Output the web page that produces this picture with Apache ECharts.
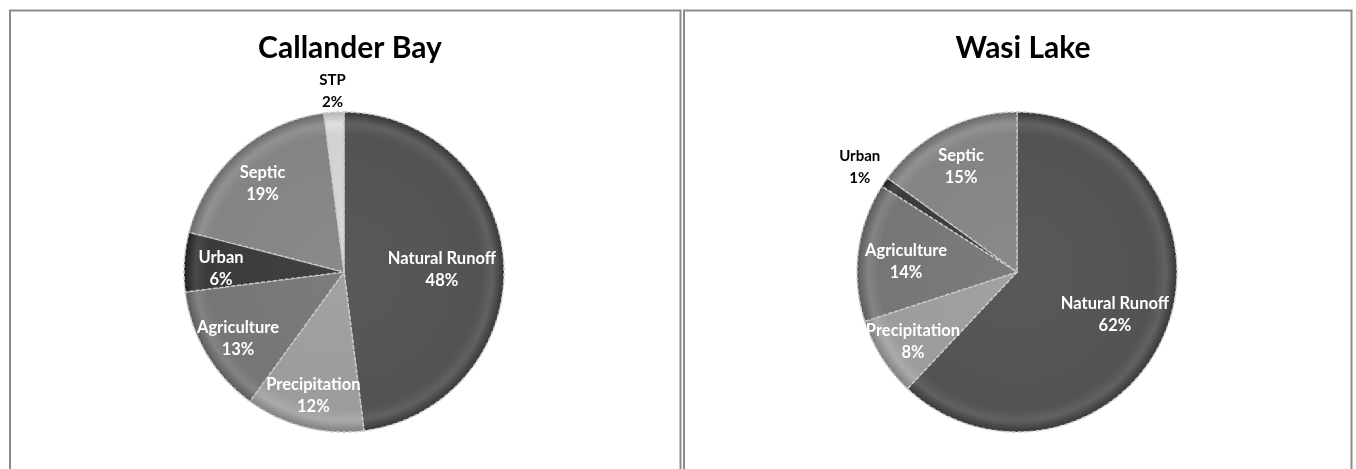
<!DOCTYPE html>
<html>
<head>
<meta charset="utf-8">
<script src="https://cdn.jsdelivr.net/npm/echarts@6/dist/echarts.min.js"></script>
<style>
html,body{margin:0;padding:0;background:#fff;}
#c{width:1356px;height:469px;}
</style>
</head>
<body>
<div id="c"></div>
<script>
// ---- data ----
const callanderTitle = 'Callander Bay';
const callanderCats = ['Natural Runoff', 'Precipitation', 'Agriculture', 'Urban', 'Septic', 'STP'];
const callanderVals = [48, 12, 13, 6, 19, 2];

const wasiTitle = 'Wasi Lake';
const wasiCats = ['Natural Runoff', 'Precipitation', 'Agriculture', 'Urban', 'Septic'];
const wasiVals = [62, 8, 14, 1, 15];

// ---- styles ----
const sliceColors = {
  'Natural Runoff': '#535353',
  'Precipitation': '#9c9c9c',
  'Agriculture': '#767676',
  'Urban': '#3b3b3b',
  'Septic': '#848484',
  'STP': '#d2d2d2'
};
const FONT = 'Lato';
const R = 160;

function shade(hex, amt) {
  const n = parseInt(hex.slice(1), 16);
  let r = (n >> 16) & 255, g = (n >> 8) & 255, b = n & 255;
  r = Math.max(0, Math.min(255, r + amt));
  g = Math.max(0, Math.min(255, g + amt));
  b = Math.max(0, Math.min(255, b + amt));
  return 'rgb(' + r + ',' + g + ',' + b + ')';
}

const isSmall = v => v < 3;

// "best fit" placement: push inside labels outward while their box stays inside
// the disc's extent; put labels of tiny slices just outside the rim.
function bestFit(center, vals) {
  return function (params) {
    const lr = params.labelRect;
    const lx = lr.x + lr.width / 2, ly = lr.y + lr.height / 2;
    let dx = lx - center[0], dy = ly - center[1];
    const len = Math.hypot(dx, dy) || 1;
    dx /= len; dy /= len;
    const hw = lr.width / 2, hh = lr.height / 2;
    const sx = dx >= 0 ? 1 : -1, sy = dy >= 0 ? 1 : -1;
    const small = isSmall(vals[params.dataIndex]);
    let t, shiftY;
    if (small) {
      const cxo = -sx * hw, cyo = -sy * hh, K = R + 1;
      const dc = dx * cxo + dy * cyo;
      const cc = cxo * cxo + cyo * cyo;
      t = -dc + Math.sqrt(Math.max(0, dc * dc - cc + K * K));
      shiftY = 2;
    } else {
      const m = 8;
      t = R * 0.77;
      if (Math.abs(dx) > 1e-6) t = Math.min(t, (R - m - hw) / Math.abs(dx));
      if (Math.abs(dy) > 1e-6) t = Math.min(t, (R - m - hh) / Math.abs(dy));
      t = Math.max(t, R * 0.4);
      shiftY = 4;
    }
    return {
      x: center[0] + dx * t, y: center[1] + dy * t + shiftY,
      align: 'center', verticalAlign: 'middle'
    };
  };
}

function buildPie(cats, vals, center) {
  const data = cats.map((c, i) => {
    const base = sliceColors[c];
    const item = {
      name: c, value: vals[i],
      itemStyle: {
        color: {
          type: 'radial', x: center[0], y: center[1], r: R, global: true,
          colorStops: [
            { offset: 0, color: shade(base, 6) },
            { offset: 0.86, color: base },
            { offset: 0.93, color: shade(base, 14) },
            { offset: 1, color: shade(base, -28) }
          ]
        }
      }
    };
    if (isSmall(vals[i])) item.label = { color: '#000000', fontSize: 15 };
    return item;
  });
  return {
    type: 'pie', center: center, radius: R, startAngle: 90, clockwise: true,
    silent: true, animation: false, avoidLabelOverlap: false,
    data: data,
    itemStyle: { borderColor: '#c9c9c9', borderWidth: 1.5, borderType: [4, 2] },
    labelLine: { show: false },
    label: {
      show: true, position: 'inside',
      formatter: p => p.name + '\n' + p.value + '%',
      color: '#ffffff', fontFamily: FONT, fontWeight: 'bold', fontSize: 16.5, lineHeight: 22
    },
    labelLayout: bestFit(center, vals)
  };
}

const chart = echarts.init(document.getElementById('c'), null, { renderer: 'canvas' });
chart.setOption({
  backgroundColor: '#ffffff',
  animation: false,
  title: [
    { text: callanderTitle, left: 345, top: 28, textAlign: 'center',
      textStyle: { fontFamily: FONT, fontWeight: 'bold', fontSize: 30, color: '#000' } },
    { text: wasiTitle, left: 1018, top: 28, textAlign: 'center',
      textStyle: { fontFamily: FONT, fontWeight: 'bold', fontSize: 30, color: '#000' } }
  ],
  graphic: [
    { type: 'polyline', shape: { points: [[10, 470], [10, 10.5], [680.5, 10.5], [680.5, 470]] },
      style: { stroke: '#8c8c8c', lineWidth: 2, fill: null } },
    { type: 'polyline', shape: { points: [[684, 470], [684, 10.5], [1351.5, 10.5], [1351.5, 470]] },
      style: { stroke: '#8c8c8c', lineWidth: 2, fill: null } }
  ],
  series: [
    buildPie(callanderCats, callanderVals, [344, 272]),
    buildPie(wasiCats, wasiVals, [1017, 272])
  ]
});
</script>
</body>
</html>
